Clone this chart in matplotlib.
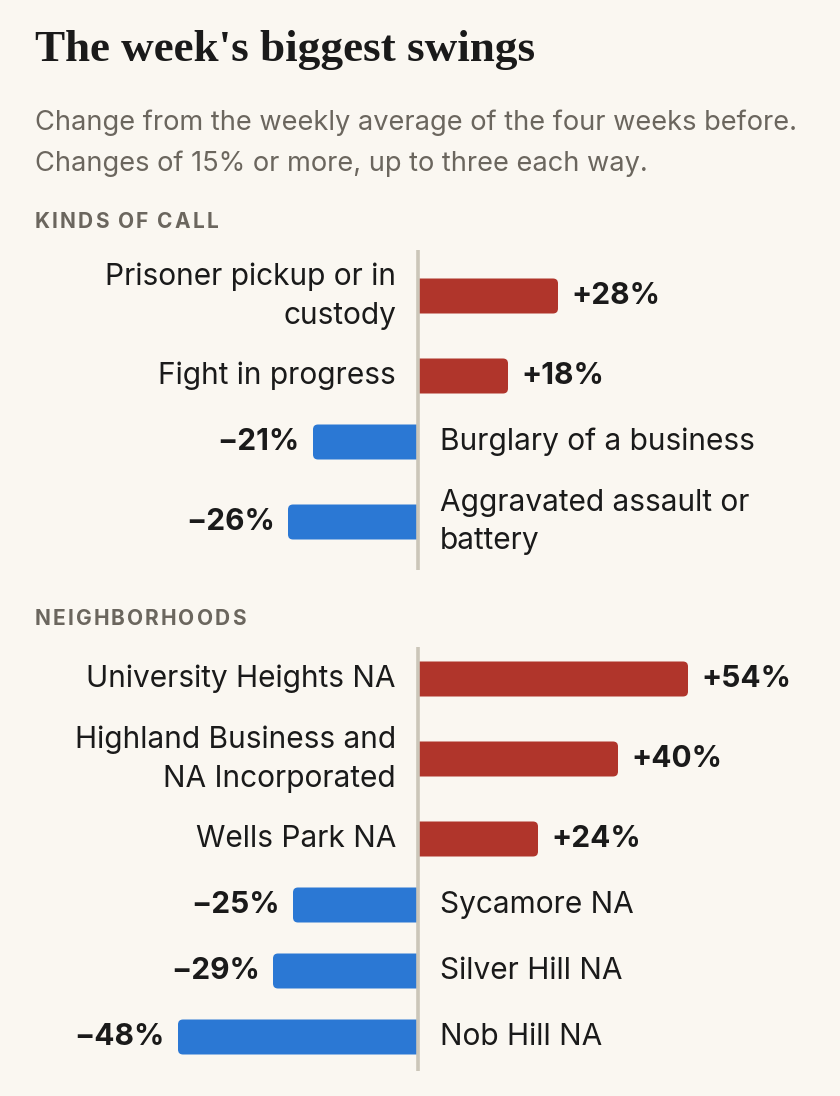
import matplotlib
matplotlib.use("Agg")
import matplotlib.pyplot as plt
from matplotlib.patches import PathPatch
from matplotlib.path import Path
from matplotlib.font_manager import findfont, FontProperties
from matplotlib.ft2font import FT2Font

plt.rcParams['font.family'] = ['Inter', 'DejaVu Sans']

# data
call_labels = ["Prisoner pickup or in\ncustody", "Fight in progress",
               "Burglary of a business", "Aggravated assault or\nbattery"]
call_values = [28, 18, -21, -26]

hood_labels = ["University Heights NA", "Highland Business and\nNA Incorporated",
               "Wells Park NA", "Sycamore NA", "Silver Hill NA", "Nob Hill NA"]
hood_values = [54, 40, 24, -25, -29, -48]

title = "The week's biggest swings"
subtitle = ["Change from the weekly average of the four weeks before.",
            "Changes of 15% or more, up to three each way."]

BG = "#faf7f1"
RED = "#b0352b"
BLUE = "#2b78d4"
GRAY = "#6b665e"
INK = "#1a1a1a"
AXIS = "#cbc6b9"

W, H = 840, 1096
ZERO_PX = 418
PX_PER_PCT = 5.0
DPI = 100

fig = plt.figure(figsize=(W / DPI, H / DPI), dpi=DPI, facecolor=BG)
ax = fig.add_axes([0, 0, 1, 1])
ax.set_facecolor(BG)
ax.set_xlim(-ZERO_PX / PX_PER_PCT, (W - ZERO_PX) / PX_PER_PCT)
ax.set_ylim(H, 0)
ax.axis("off")


def px(x, y):
    return x / W, 1 - y / H


def tracked(x, y, s, size, track, **kw):
    # draw text letter by letter, with extra spacing (in em)
    prop = FontProperties(family="Inter", weight=kw.get("fontweight", "normal"))
    font = FT2Font(findfont(prop))
    font.set_size(size, DPI)
    for c in s:
        fig.text(*px(x, y), c, fontsize=size, ha="left", va="baseline", **kw)
        adv = font.load_char(ord(c)).linearHoriAdvance / 65536
        x += adv + track * size * DPI / 72


fig.text(*px(35, 61), title, family="Liberation Serif", fontweight="bold",
         fontsize=32.5, color=INK, va="baseline", ha="left")
for i, line in enumerate(subtitle):
    fig.text(*px(35, 130 + 41 * i), line, fontsize=19.6, color=GRAY,
             va="baseline", ha="left")


def bar_path(v, cy, h, r):
    rx = r / PX_PER_PCT
    s = 1 if v > 0 else -1
    y0, y1 = cy - h / 2, cy + h / 2
    verts = [(0, y0), (v - s * rx, y0), (v, y0), (v, y0 + r), (v, y1 - r),
             (v, y1), (v - s * rx, y1), (0, y1), (0, y0)]
    codes = [Path.MOVETO, Path.LINETO, Path.CURVE3, Path.CURVE3, Path.LINETO,
             Path.CURVE3, Path.CURVE3, Path.LINETO, Path.CLOSEPOLY]
    return Path(verts, codes)


def section(name, head_y, labels, values, top):
    tracked(35, head_y, name, 15, 0.1, fontweight="bold", color=GRAY)
    y = top
    centers = []
    for lab in labels:
        h = 66 + 28 * lab.count("\n")
        centers.append(y + h / 2)
        y += h
    bottom = y
    for lab, v, cy in zip(labels, values, centers):
        col = RED if v > 0 else BLUE
        ax.add_patch(PathPatch(bar_path(v, cy, 35, 5), fc=col, ec="none", zorder=2))
        sign = "+" if v > 0 else "\u2212"
        txt = f"{sign}{abs(v)}%"
        side = 1 if v > 0 else -1
        ax.annotate(txt, (v, cy), xytext=(13 * side, 0), textcoords="offset pixels",
                    ha="left" if v > 0 else "right", va="center", fontsize=21.5,
                    fontweight="bold", color=INK)
        ax.annotate(lab, (0, cy), xytext=(-22 * side, 0), textcoords="offset pixels",
                    ha="right" if v > 0 else "left", va="center", fontsize=21.5,
                    color=INK, linespacing=1.49,
                    multialignment="right" if v > 0 else "left")
    ax.plot([0, 0], [top + 1, bottom + 1], color=AXIS, lw=2.6,
            solid_capstyle="butt", zorder=3)


section("KINDS OF CALL", 228, call_labels, call_values, 249)
section("NEIGHBORHOODS", 625, hood_labels, hood_values, 646)

fig.savefig("out.png", dpi=DPI, facecolor=BG)
